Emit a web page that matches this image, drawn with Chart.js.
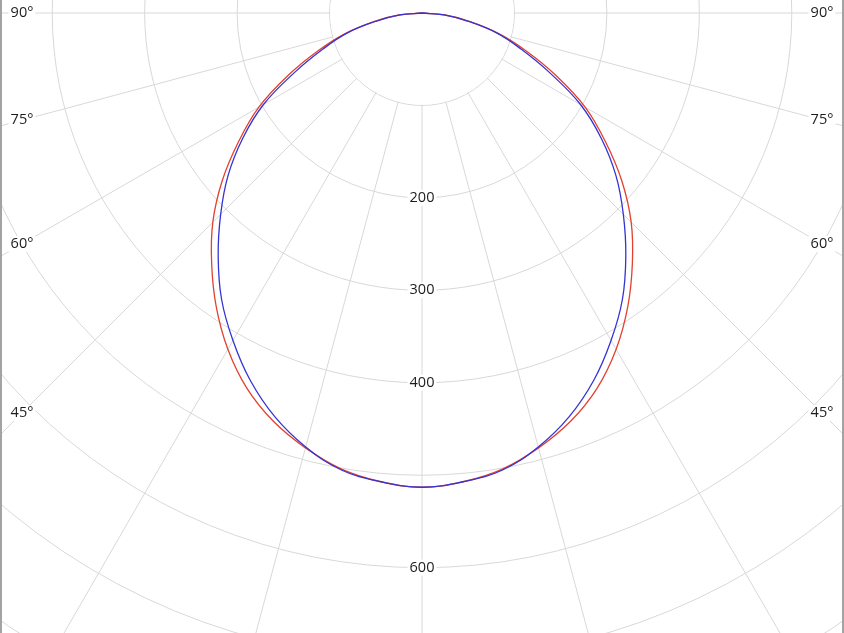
<!DOCTYPE html>
<html>
<head>
<meta charset="utf-8">
<title>Luminous intensity distribution</title>
<script src="https://cdn.jsdelivr.net/npm/chart.js@4/dist/chart.umd.min.js"></script>
<style>
    html, body { margin: 0; padding: 0; background: #fff; overflow: hidden; width: 844px; height: 633px; }
    #wrap { position: absolute; left: -410px; top: -819px; width: 1664px; height: 1664px; }
    .edge { position: absolute; top: 0; width: 2px; height: 633px; background: #a3a3a3; }
</style>
</head>
<body>
<div id="wrap"><canvas id="polar" width="1664" height="1664"></canvas></div>
<div class="edge" style="left:0"></div>
<div class="edge" style="right:0"></div>
<script>
// gamma angles (deg from nadir), one side of each plane
const STEP = 5;
const gammaAngles = [0, 5, 10, 15, 20, 25, 30, 35, 40, 45, 50, 55, 60, 65, 70, 75, 80, 85, 90];
// cd values
const planeC0C180 = [513, 509, 501, 487, 470, 448, 420, 388, 354, 320, 282, 242, 204, 160, 120, 86, 52, 25, 0];
const planeC90C270 = [513, 509, 502, 486, 465, 439, 409, 378, 343, 308, 274, 237, 198, 152, 114, 84, 50, 24, 0];
const ringLabels = [200, 300, 400, 600];
const angleLabels = [90, 75, 60, 45];

const GRID = "#d8d8d8";
const FONT = "14.5px 'Open Sans', 'DejaVu Sans', sans-serif";

// full turn of labels, index 0 points straight down
const directions = [];
for (let d = 0; d < 360; d += STEP) directions.push(d);

function aroundPlane(values) {
    return directions.map((d) => {
        const g = d <= 180 ? d : 360 - d;
        const i = gammaAngles.indexOf(g);
        return i >= 0 ? values[i] : 0;
    });
}

function labelBox(ctx, text, x, y) {
    const w = ctx.measureText(text).width;
    ctx.fillStyle = "#fff";
    ctx.fillRect(x - w / 2 - 2, y - 8, w + 4, 16);
    ctx.fillStyle = "#1c1c1c";
    ctx.fillText(text, x, y);
}

const polarDecor = {
    id: "polarDecor",
    beforeDatasetsDraw(chart) {
        // no radial lines inside the first ring
        const r = chart.scales.r;
        const ctx = chart.ctx;
        ctx.save();
        ctx.fillStyle = "#fff";
        ctx.beginPath();
        ctx.arc(r.xCenter, r.yCenter, r.getDistanceFromCenterForValue(100) - 0.6, 0, Math.PI * 2);
        ctx.fill();
        ctx.restore();
    },
    afterDraw(chart) {
        const r = chart.scales.r;
        const ctx = chart.ctx;
        ctx.save();
        ctx.font = FONT;
        ctx.textAlign = "center";
        ctx.textBaseline = "middle";
        ringLabels.forEach((v) => {
            labelBox(ctx, String(v), r.xCenter, r.yCenter + r.getDistanceFromCenterForValue(v));
        });
        // angle labels sit where each radial line meets the frame edge
        const dx = window.innerWidth / 2 - 22;
        angleLabels.forEach((a) => {
            const dy = dx / Math.tan((a * Math.PI) / 180);
            [-1, 1].forEach((s) => labelBox(ctx, a + "°", r.xCenter + s * dx, r.yCenter + dy));
        });
        ctx.restore();
    },
};

new Chart(document.getElementById("polar"), {
    type: "radar",
    data: {
        labels: directions.map((d) => d + "°"),
        datasets: [
            {
                label: "C0-C180",
                data: aroundPlane(planeC0C180),
                borderColor: "#e2412f",
                order: 1,
            },
            {
                label: "C90-C270",
                data: aroundPlane(planeC90C270),
                borderColor: "#3434d4",
                order: 0,
            },
        ],
    },
    options: {
        responsive: false,
        animation: false,
        layout: { padding: 0 },
        elements: {
            line: { borderWidth: 1.3, tension: 0.4, fill: false },
            point: { radius: 0, hoverRadius: 0 },
        },
        plugins: { legend: { display: false }, tooltip: { enabled: false } },
        scales: {
            r: {
                min: 0,
                max: 900,
                startAngle: 180,
                ticks: { display: false, stepSize: 100 },
                pointLabels: { display: false },
                grid: { circular: true, color: GRID, lineWidth: 1 },
                angleLines: {
                    color: GRID,
                    lineWidth: (ctx) => ((ctx.index * STEP) % 15 === 0 ? 1 : 0),
                },
            },
        },
    },
    plugins: [polarDecor],
});
</script>
</body>
</html>
